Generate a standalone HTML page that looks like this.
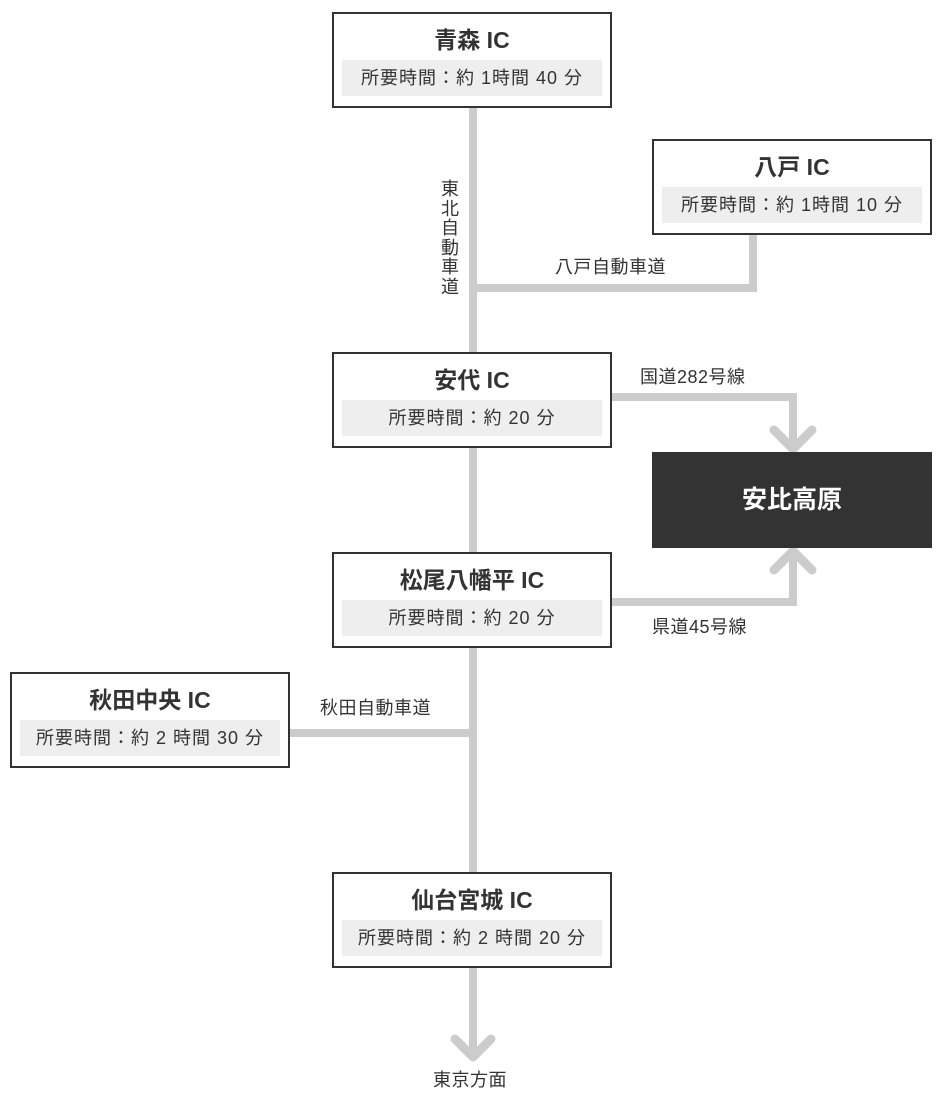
<!DOCTYPE html>
<html><head><meta charset="utf-8">
<style>
body{margin:0;width:940px;height:1112px;background:#fff;position:relative;font-family:"Liberation Sans","Noto Sans CJK JP",sans-serif;color:#333;overflow:hidden}
.box{position:absolute;width:276px;height:92px;border:2px solid #333;background:#fff;box-sizing:content-box}
.box .t{position:absolute;left:0;right:0;top:11px;text-align:center;font-size:23px;font-weight:bold;line-height:30px}
.box .s{position:absolute;left:8px;right:8px;top:46px;height:36px;background:#eee;text-align:center;font-size:18px;line-height:36px;letter-spacing:1px}
.lb{position:absolute;font-size:18px;line-height:22px;white-space:nowrap;letter-spacing:0.5px}
svg{position:absolute;left:0;top:0}
</style></head><body>
<svg width="940" height="1112">
<g stroke="#ccc" stroke-width="8" fill="none" stroke-linecap="butt">
<line x1="473" y1="107" x2="473" y2="1056"/>
<polyline points="473,288 753,288 753,235"/>
<polyline points="612,397 793,397 793,447"/>
<polyline points="612,602 793,602 793,552"/>
<line x1="290" y1="733" x2="473" y2="733"/>
</g>
<g stroke="#ccc" stroke-width="9" fill="none" stroke-linecap="round" stroke-linejoin="round">
<polyline points="774,430 793,449 812,430"/>
<polyline points="774,570 793,551 812,570"/>
<polyline points="455,1039 473,1057 491,1039"/>
</g>
</svg>
<div class="box" style="left:332px;top:12px"><div class="t">青森 IC</div><div class="s">所要時間：約 1時間 40 分</div></div>
<div class="box" style="left:652px;top:139px"><div class="t">八戸 IC</div><div class="s">所要時間：約 1時間 10 分</div></div>
<div class="box" style="left:332px;top:352px"><div class="t">安代 IC</div><div class="s">所要時間：約 20 分</div></div>
<div class="box" style="left:332px;top:552px"><div class="t">松尾八幡平 IC</div><div class="s">所要時間：約 20 分</div></div>
<div class="box" style="left:10px;top:672px"><div class="t">秋田中央 IC</div><div class="s">所要時間：約 2 時間 30 分</div></div>
<div class="box" style="left:332px;top:872px"><div class="t">仙台宮城 IC</div><div class="s">所要時間：約 2 時間 20 分</div></div>
<div style="position:absolute;left:652px;top:452px;width:280px;height:96px;background:#333;color:#fff;font-size:25px;font-weight:bold;text-align:center;line-height:96px">安比高原</div>
<div class="lb" style="left:439px;top:180px;width:22px;line-height:19.5px;white-space:normal;text-align:center;letter-spacing:0">東<br>北<br>自<br>動<br>車<br>道</div>
<div class="lb" style="left:555px;top:256px">八戸自動車道</div>
<div class="lb" style="left:640px;top:366px">国道282号線</div>
<div class="lb" style="left:652px;top:616px">県道45号線</div>
<div class="lb" style="left:320px;top:697px">秋田自動車道</div>
<div class="lb" style="left:433px;top:1069px">東京方面</div>
</body></html>
